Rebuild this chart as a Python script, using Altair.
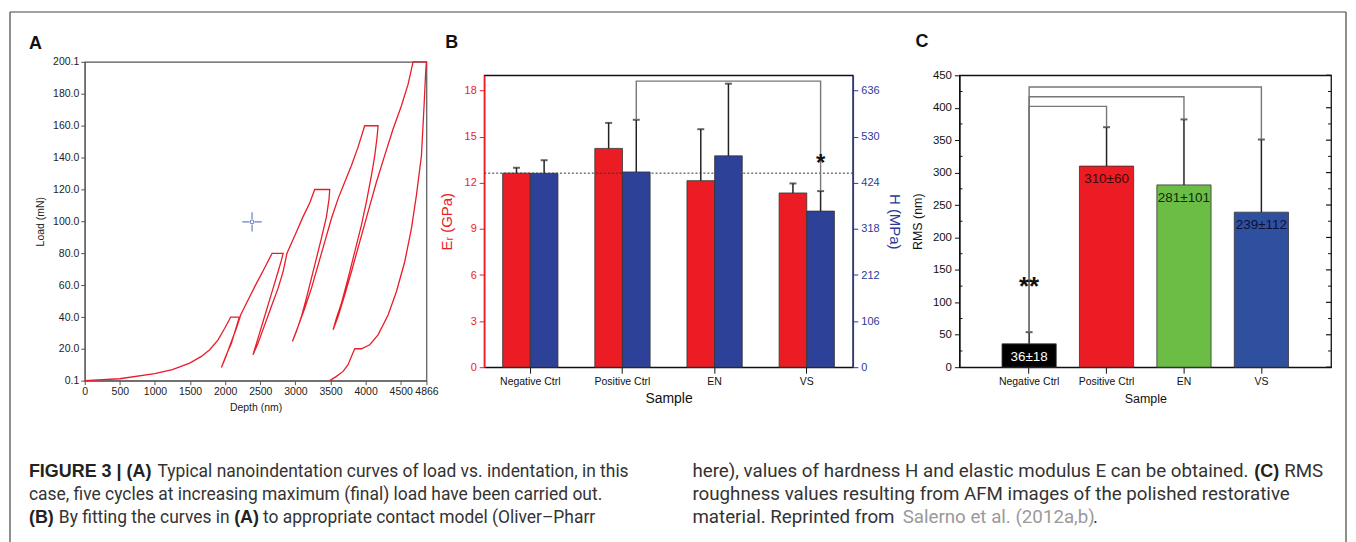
import altair as alt
import pandas as pd

# ---------------- Panel A: load vs depth (multi-cycle nanoindentation) ----------------
depth = [0, 498, 997, 1248, 1495, 1661, 1780, 1899, 1994, 2079,
         2203, 2160, 2089, 2017, 1946,
         2003, 2089, 2160, 2222, 2326, 2445, 2563, 2668,
         2825, 2801, 2753, 2682, 2611, 2540, 2468, 2397,
         2468, 2563, 2658, 2753, 2825, 2880, 2991, 3109, 3204, 3275,
         3489, 3480, 3442, 3370, 3299, 3228, 3157, 3086, 3014, 2957,
         3038, 3133, 3228, 3323, 3418, 3513, 3608, 3703, 3798, 3892, 3987,
         4177, 4163, 4130, 4083, 4011, 3940, 3845, 3750, 3655, 3584, 3537,
         3608, 3703, 3798, 3916, 4035, 4154, 4272, 4391, 4510, 4605, 4676,
         4866, 4856, 4832, 4795, 4723, 4652, 4557, 4438, 4320, 4177, 4059, 3940,
         3845, 3798, 3750, 3679, 3584, 3489]
load = [0.1, 1.3, 4.5, 7.0, 11.1, 15.3, 19.5, 25.7, 33.0, 40.0,
        40.0, 34.0, 23.6, 16.3, 8.4,
        14.3, 24.7, 33.0, 41.4, 50.7, 61.1, 70.9, 80.0,
        80.0, 75.7, 68.4, 58.0, 47.6, 37.2, 26.8, 16.4,
        23.6, 35.1, 46.6, 58.0, 68.5, 80.0, 91.0, 103.0, 111.5, 120.0,
        120.0, 114.3, 102.8, 89.3, 76.8, 64.3, 51.8, 40.3, 30.9, 24.7,
        34.1, 45.5, 58.0, 72.6, 87.2, 101.8, 114.3, 124.7, 135.1, 146.6, 160.0,
        160.0, 152.8, 141.3, 128.8, 112.2, 97.6, 80.9, 64.3, 48.6, 39.3, 32.0,
        40.3, 53.9, 68.4, 87.2, 106.0, 124.7, 141.4, 158.0, 172.6, 186.1, 200.1,
        200.1, 194.5, 172.6, 141.3, 116.3, 95.5, 74.7, 55.9, 41.3, 28.8, 22.6, 20.1,
        20.1, 15.3, 10.1, 5.9, 2.8, 0.1]
cursor_depth = [2383]
cursor_load = [99.7]
a_xticks = [0, 500, 1000, 1500, 2000, 2500, 3000, 3500, 4000, 4500, 4866]
a_yticks = [0.1, 20, 40, 60, 80, 100, 120, 140, 160, 180, 200.1]

# ---------------- Panel B: Er and H ----------------
samples = ["Negative Ctrl", "Positive Ctrl", "EN", "VS"]
e_mod = [12.63, 14.24, 12.14, 11.34]
e_err = [0.35, 1.66, 3.35, 0.62]
h_val = [446, 449, 486, 359]
h_err = [30, 120, 166, 46]
b_bracket_level = 658
b_star_level = 476
e_ticks = [0, 3, 6, 9, 12, 15, 18]
h_ticks = [0, 106, 212, 318, 424, 530, 636]

# ---------------- Panel C: RMS roughness ----------------
rms = [36, 310, 281, 239]
rms_err = [18, 60, 101, 112]
c_bracket_levels = [402, 417, 432]
c_star_level = 132
c_ticks = [0, 50, 100, 150, 200, 250, 300, 350, 400, 450]
c_minor = [25, 75, 125, 175, 225, 275, 325, 375, 425]

# ---------------- Caption (text, weight, colour, left x on page, font size) ----------------
cap_lines = [
    [("FIGURE 3 | (A)", "bold", "#222", 27, 18),
     ("Typical nanoindentation curves of load vs. indentation, in this", "normal", "#333", 156, 17.5),
     ("here), values of hardness H and elastic modulus E can be obtained.", "normal", "#333", 693, 18.8),
     ("(C)", "bold", "#222", 1257, 18), ("RMS", "normal", "#333", 1287, 18.8)],
    [("case, five cycles at increasing maximum (final) load have been carried out.", "normal", "#333", 27, 17.5),
     ("roughness values resulting from AFM images of the polished restorative", "normal", "#333", 693, 18.8)],
    [("(B)", "bold", "#222", 27, 18), ("By fitting the curves in", "normal", "#333", 57, 17.5),
     ("(A)", "bold", "#222", 233, 18), ("to appropriate contact model (Oliver\u2013Pharr", "normal", "#333", 262, 17.5),
     ("material. Reprinted from", "normal", "#333", 693, 18.8),
     ("Salerno et al. (2012a,b)", "normal", "#9a9a9a", 904, 18.8), (".", "normal", "#333", 1095, 18.8)],
]
cap_baselines = [476, 499, 522]

FONT = "Liberation Sans"
RED_A = "#ea1c2a"
RED = "#ec1c24"
BLUE_B = "#2d4199"
BLUE_AX = "#2b3a99"
GREEN = "#6bbd45"
BLUE_C = "#2f4f9f"

A_LEFT, A_TOP = 83, 59   # page position of panel A's plot area


def letter(t, x, y):
    return alt.Chart(pd.DataFrame({"t": [t]})).mark_text(
        align="left", baseline="alphabetic", font=FONT, fontSize=18, fontWeight="bold", color="#111"
    ).encode(text="t:N", x=alt.value(x), y=alt.value(y))


# ---------------- build A ----------------
dfA = pd.DataFrame({"depth": depth, "load": load, "i": list(range(len(depth)))})
xA = alt.X("depth:Q", scale=alt.Scale(domain=[0, 4866], nice=False, zero=False),
           axis=alt.Axis(values=a_xticks, format="d", title="Depth (nm)", grid=False, labelFlush=False,
                         labelOverlap=False, labelFontSize=10.5, titleFontSize=10.5, labelFont=FONT, titleFont=FONT,
                         titleFontWeight="normal", tickSize=4, domainColor="#555", tickColor="#555",
                         labelColor="#222", titleColor="#222", labelPadding=2, titlePadding=5))
yA = alt.Y("load:Q", scale=alt.Scale(domain=[0.1, 200.1], nice=False, zero=False),
           axis=alt.Axis(values=a_yticks, format=".1f", title="Load (mN)", grid=False, labelFlush=False,
                         labelOverlap=False, labelFontSize=10.5, titleFontSize=10.5, labelFont=FONT, titleFont=FONT,
                         titleFontWeight="normal", tickSize=4, domainColor="#555", tickColor="#555",
                         labelColor="#222", titleColor="#222", labelPadding=2, titlePadding=7))
lineA = alt.Chart(dfA).mark_line(color=RED_A, strokeWidth=1.3).encode(x=xA, y=yA, order="i:Q")
dfCur = pd.DataFrame({"depth": cursor_depth, "load": cursor_load})
cross = alt.Chart(dfCur).mark_point(
    shape="M-1,0L-0.3,0M0.3,0L1,0M0,-1L0,-0.3M0,0.3L0,1", size=380, color="#2a4aa8", strokeWidth=1.2, filled=False
).encode(x=xA, y=yA)
dot = alt.Chart(dfCur).mark_point(shape="circle", size=14, color="#2a4aa8", strokeWidth=1.2, filled=False).encode(x=xA, y=yA)

# caption and outer frame are drawn in panel A's layer, relative to its plot area
cap_layers = []
for li, segs in enumerate(cap_lines):
    for txt, wt, colr, xp, fs in segs:
        cap_layers.append(
            alt.Chart(pd.DataFrame({"t": [txt]})).mark_text(
                align="left", baseline="alphabetic",
                font=("Liberation Sans" if wt == "bold" else "Roboto"),
                fontSize=fs, fontWeight=wt, color=colr
            ).encode(text="t:N", x=alt.value(xp - A_LEFT), y=alt.value(cap_baselines[li] - A_TOP)))
one = pd.DataFrame({"a": [0]})
frame_col = "#444"
FL, FR, FT, FB = 8, 1349, 9, 560
frame = [
    alt.Chart(one).mark_rule(color=frame_col, strokeWidth=1.2).encode(
        x=alt.value(FL - A_LEFT), y=alt.value(FT - A_TOP), y2=alt.value(FB - A_TOP)),
    alt.Chart(one).mark_rule(color=frame_col, strokeWidth=1.2).encode(
        x=alt.value(FR - A_LEFT), y=alt.value(FT - A_TOP), y2=alt.value(FB - A_TOP)),
    alt.Chart(one).mark_rule(color=frame_col, strokeWidth=1.2).encode(
        x=alt.value(FL - A_LEFT), x2=alt.value(FR - A_LEFT), y=alt.value(FT - A_TOP)),
]
panelA = alt.layer(lineA, cross, dot, letter("A", 27 - A_LEFT, 46 - A_TOP), *cap_layers, *frame).properties(
    width=343, height=320, view=alt.ViewBackground(stroke="#555", strokeWidth=1.2))

# ---------------- build B ----------------
xB = alt.X("Sample:N", sort=samples, scale=alt.Scale(domain=samples, paddingInner=0.4, paddingOuter=0.2),
           axis=alt.Axis(title="Sample", labelAngle=0, labelFontSize=10.5, titleFontSize=14, labelFont=FONT,
                         titleFont=FONT, titleFontWeight="normal", tickSize=6, domainColor="#111", tickColor="#111",
                         labelColor="#111", titleColor="#111", labelPadding=3, titlePadding=5, domainWidth=1.3))
xoff = alt.XOffset("Series:N", scale=alt.Scale(domain=["E", "H"], paddingInner=0, paddingOuter=0))
axisE = alt.Axis(values=e_ticks, title="E\u1d63 (GPa)", grid=False, labelFontSize=11, titleFontSize=15,
                 labelFont=FONT, titleFont=FONT, titleFontWeight="normal", tickSize=5, domainColor=RED,
                 tickColor=RED, labelColor=RED, titleColor=RED, domainWidth=1.5, labelPadding=3, titlePadding=10)
scaleE = alt.Scale(domain=[0, 19], nice=False, zero=True)
axisH = alt.Axis(values=h_ticks, title="H (MPa)", orient="right", grid=False, labelFontSize=11, titleFontSize=15,
                 labelFont=FONT, titleFont=FONT, titleFontWeight="normal", tickSize=5, domainColor=BLUE_AX,
                 tickColor=BLUE_AX, labelColor=BLUE_AX, titleColor=BLUE_AX, domainWidth=1.5, labelPadding=3,
                 titlePadding=7)
scaleH = alt.Scale(domain=[0, 636 * 19 / 18], nice=False, zero=True)

dfE = pd.DataFrame({"Sample": samples, "Series": "E", "val": e_mod,
                    "top": [v + e for v, e in zip(e_mod, e_err)]})
dfH = pd.DataFrame({"Sample": samples, "Series": "H", "val": h_val,
                    "top": [v + e for v, e in zip(h_val, h_err)]})
h_top = list(dfH["top"])

barsE = alt.Chart(dfE).mark_bar(color=RED, stroke="#333", strokeWidth=0.8).encode(
    x=xB, xOffset=xoff, y=alt.Y("val:Q", scale=scaleE, axis=axisE))
errE = alt.Chart(dfE).mark_rule(color="#222", strokeWidth=1.5).encode(
    x=xB, xOffset=xoff, y=alt.Y("val:Q", scale=scaleE, axis=axisE), y2="top:Q")
capE = alt.Chart(dfE).mark_tick(color="#222", thickness=2, size=7).encode(
    x=xB, xOffset=xoff, y=alt.Y("top:Q", scale=scaleE, axis=axisE))
refE = alt.Chart(pd.DataFrame({"val": [e_mod[0]]})).mark_rule(color="#333", strokeDash=[2, 2], strokeWidth=1).encode(
    y=alt.Y("val:Q", scale=scaleE, axis=axisE))
groupE = alt.layer(barsE, errE, capE, refE, letter("B", -39, -27))

barsH = alt.Chart(dfH).mark_bar(color=BLUE_B, stroke="#333", strokeWidth=0.8).encode(
    x=xB, xOffset=xoff, y=alt.Y("val:Q", scale=scaleH, axis=axisH))
errH = alt.Chart(dfH).mark_rule(color="#222", strokeWidth=1.5).encode(
    x=xB, xOffset=xoff, y=alt.Y("val:Q", scale=scaleH, axis=axisH), y2="top:Q")
capH = alt.Chart(dfH).mark_tick(color="#222", thickness=2, size=7).encode(
    x=xB, xOffset=xoff, y=alt.Y("top:Q", scale=scaleH, axis=axisH))
dfBrB = pd.DataFrame({"Sample": [samples[1], samples[1], samples[3], samples[3]], "Series": "H",
                      "val": [h_top[1], b_bracket_level, b_bracket_level, h_top[3]], "step": [0, 1, 2, 3]})
brB = alt.Chart(dfBrB).mark_line(color="#777", strokeWidth=1.4).encode(
    x=xB, xOffset=xoff, y=alt.Y("val:Q", scale=scaleH, axis=axisH), order="step:Q")
starB = alt.Chart(pd.DataFrame({"Sample": [samples[3]], "Series": "H", "val": [b_star_level], "t": ["*"]})).mark_text(
    font=FONT, fontSize=24, fontWeight="bold", color="#111", baseline="middle", dy=4).encode(
    x=xB, xOffset=xoff, y=alt.Y("val:Q", scale=scaleH, axis=axisH), text="t:N")
groupH = alt.layer(barsH, errH, capH, brB, starB)

panelB = alt.layer(groupE, groupH).resolve_scale(y="independent").properties(
    width=370, height=293, view=alt.ViewBackground(stroke="#111", strokeWidth=1.3))

# ---------------- build C ----------------
W_C = 373
xC = alt.X("Sample:N", sort=samples, scale=alt.Scale(domain=samples, paddingInner=0.3, paddingOuter=0.55),
           axis=alt.Axis(title="Sample", labelAngle=0, labelFontSize=10.5, titleFontSize=12.5, labelFont=FONT,
                         titleFont=FONT, titleFontWeight="normal", tickSize=6, domainColor="#111", tickColor="#111",
                         labelColor="#111", titleColor="#111", labelPadding=3, titlePadding=6, domainWidth=1.3))
axisC = alt.Axis(values=c_ticks, title="RMS (nm)", grid=False, labelFontSize=11.5, titleFontSize=12.5, labelFont=FONT,
                 titleFont=FONT, titleFontWeight="normal", tickSize=5, domainColor="#111", tickColor="#111",
                 labelColor="#111", titleColor="#111", domainWidth=1.3, labelPadding=3, titlePadding=8)
scaleC = alt.Scale(domain=[0, 450], nice=False, zero=True)
bar_colors = ["#000000", RED, GREEN, BLUE_C]
label_colors = ["#ffffff", "#3a0a0a", "#0e2a0e", "#0c1236"]
dfC = pd.DataFrame({"Sample": samples, "rms": rms, "top": [v + e for v, e in zip(rms, rms_err)],
                    "label": [f"{v}\u00b1{e}" for v, e in zip(rms, rms_err)], "lc": label_colors})
barsC = alt.Chart(dfC).mark_bar(stroke="#333", strokeWidth=0.8).encode(
    x=xC, y=alt.Y("rms:Q", scale=scaleC, axis=axisC),
    color=alt.Color("Sample:N", scale=alt.Scale(domain=samples, range=bar_colors), legend=None))
errC = alt.Chart(dfC).mark_rule(color="#222", strokeWidth=1.5).encode(
    x=xC, y=alt.Y("rms:Q", scale=scaleC, axis=axisC), y2="top:Q")
capC = alt.Chart(dfC).mark_tick(color="#222", thickness=2, size=7).encode(
    x=xC, y=alt.Y("top:Q", scale=scaleC, axis=axisC))
labC = alt.Chart(dfC).mark_text(font=FONT, fontSize=13.5, baseline="middle", dy=13).encode(
    x=xC, y=alt.Y("rms:Q", scale=scaleC, axis=axisC), text="label:N", color=alt.Color("lc:N", scale=None))
rowsC = []
c_tops = list(dfC["top"])
for k, lev in enumerate(c_bracket_levels):
    tgt = k + 1
    for s, (smp, v) in enumerate([(samples[0], c_tops[0]), (samples[0], lev), (samples[tgt], lev), (samples[tgt], c_tops[tgt])]):
        rowsC.append({"Sample": smp, "rms": v, "b": k, "step": s})
brC = alt.Chart(pd.DataFrame(rowsC)).mark_line(color="#777", strokeWidth=1.4).encode(
    x=xC, y=alt.Y("rms:Q", scale=scaleC, axis=axisC), detail="b:N", order="step:Q")
starC = alt.Chart(pd.DataFrame({"Sample": [samples[0]], "rms": [c_star_level], "t": ["**"]})).mark_text(
    font=FONT, fontSize=26, fontWeight="bold", color="#111", baseline="middle", dy=5).encode(
    x=xC, y=alt.Y("rms:Q", scale=scaleC, axis=axisC), text="t:N")
# inner tick marks (major on the right, minor on both sides)
dfMaj = pd.DataFrame({"rms": c_ticks})
dfMin = pd.DataFrame({"rms": c_minor})
tickR = alt.Chart(dfMaj).mark_rule(color="#111", strokeWidth=1.2).encode(
    y=alt.Y("rms:Q", scale=scaleC, axis=axisC), x=alt.value(W_C - 5), x2=alt.value(W_C))
minR = alt.Chart(dfMin).mark_rule(color="#111", strokeWidth=1).encode(
    y=alt.Y("rms:Q", scale=scaleC, axis=axisC), x=alt.value(W_C - 3), x2=alt.value(W_C))
minL = alt.Chart(dfMin).mark_rule(color="#111", strokeWidth=1).encode(
    y=alt.Y("rms:Q", scale=scaleC, axis=axisC), x=alt.value(0), x2=alt.value(3))
panelC = alt.layer(barsC, errC, capC, labC, brC, starC, tickR, minR, minL, letter("C", -44, -28)).properties(
    width=W_C, height=293, view=alt.ViewBackground(stroke="#111", strokeWidth=1.3))


def spacer(w):
    return alt.Chart(one).mark_point(opacity=0).encode(x=alt.value(0), y=alt.value(0)).properties(width=w, height=10)


# gaps between plot areas: A->B 58 px, B->C 107 px (spacing 20 + spacer + 20)
chart = alt.hconcat(panelA, spacer(18), panelB, spacer(67), panelC, spacing=20, bounds="flush", center=True).properties(
    padding={"left": 0, "top": 1, "right": 0, "bottom": 0}, background="white"
).configure_view(stroke=None)

chart.save("out.html", embed_options={"renderer": "svg", "actions": False})
